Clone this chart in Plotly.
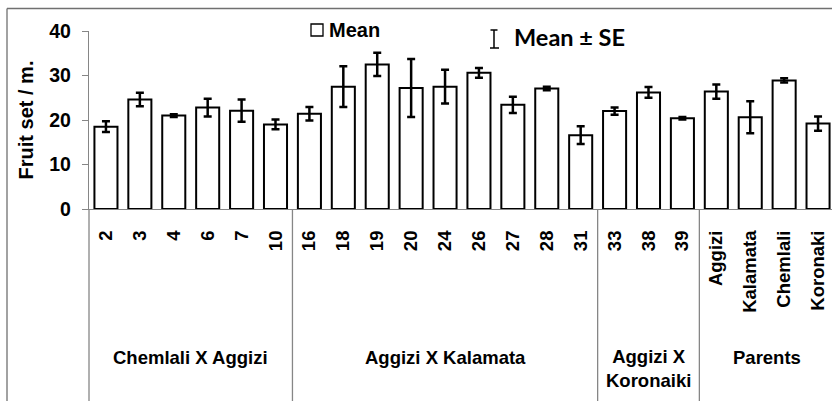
import plotly.graph_objects as go

# Fruit set per metre for each olive progeny and parent
labels = ["2", "3", "4", "6", "7", "10",
          "16", "18", "19", "20", "24", "26", "27", "28", "31",
          "33", "38", "39",
          "Aggizi", "Kalamata", "Chemlali", "Koronaki"]
means = [18.5, 24.6, 21.0, 22.8, 22.1, 19.0,
         21.4, 27.5, 32.5, 27.2, 27.5, 30.6, 23.4, 27.1, 16.6,
         22.0, 26.2, 20.4,
         26.4, 20.6, 28.9, 19.2]
se = [1.2, 1.5, 0.3, 2.0, 2.5, 1.1,
      1.5, 4.6, 2.6, 6.5, 3.8, 1.1, 1.8, 0.4, 2.0,
      0.8, 1.2, 0.3,
      1.6, 3.6, 0.5, 1.6]
groups = ["Chemlali X Aggizi", "Aggizi X Kalamata", "Aggizi X<br>Koronaiki", "Parents"]
group_sizes = [6, 9, 3, 4]

W, H = 832, 401
ML, MT, MB = 89, 31, 192
PW = W - ML
PH = H - MT - MB
AXIS_GREY = "#868686"
ARIAL = "Liberation Sans, Arial, sans-serif"


def px_x(px):
    return (px - ML) / PW


def px_y(py):
    return (H - MB - py) / PH


xs = list(range(len(labels)))

fig = go.Figure()
fig.add_trace(go.Bar(
    x=xs, y=means, width=0.68,
    marker=dict(color="white", line=dict(color="black", width=2)),
    error_y=dict(type="data", array=se, visible=True,
                 color="black", thickness=2.5, width=4),
    showlegend=False,
))

shapes = []
annotations = []

# group separators and captions below the axis
start = 0
for g, n in zip(groups, group_sizes):
    end = start + n
    if end < len(labels):
        shapes.append(dict(type="line", xref="x", yref="paper",
                           x0=end - 0.5, x1=end - 0.5, y0=0, y1=px_y(H + 2),
                           line=dict(color=AXIS_GREY, width=1.3)))
    two_lines = "<br>" in g
    annotations.append(dict(
        xref="x", yref="paper", x=(start + end - 1) / 2,
        y=px_y(368 if two_lines else 357), text=g, showarrow=False,
        font=dict(family=ARIAL, size=18.5, color="black", weight="bold"),
        xanchor="center", yanchor="middle", align="center"))
    start = end

# y axis line continued down through the caption area
shapes.append(dict(type="line", xref="paper", yref="paper",
                   x0=0, x1=0, y0=0, y1=px_y(H + 2),
                   line=dict(color=AXIS_GREY, width=1.3)))

# outer frame (left and top edges)
shapes.append(dict(type="line", xref="paper", yref="paper",
                   x0=px_x(7), x1=px_x(7), y0=px_y(8.5), y1=px_y(H + 2),
                   line=dict(color="#707070", width=1.3)))
shapes.append(dict(type="line", xref="paper", yref="paper",
                   x0=px_x(7), x1=px_x(W + 2), y0=px_y(8.5), y1=px_y(8.5),
                   line=dict(color="#707070", width=1.3)))

# legend: mean box
shapes.append(dict(type="rect", xref="paper", yref="paper",
                   x0=px_x(311), x1=px_x(323), y0=px_y(36), y1=px_y(24),
                   line=dict(color="black", width=1.3), fillcolor="white"))
annotations.append(dict(xref="paper", yref="paper", x=px_x(327), y=px_y(30),
                        text="Mean", showarrow=False, xanchor="left", yanchor="middle",
                        font=dict(family=ARIAL, size=20, color="black", weight="bold")))

# legend: error bar glyph
for seg in [(494, 30, 494, 48), (490.5, 30, 497.5, 30), (490, 48, 499, 48)]:
    shapes.append(dict(type="line", xref="paper", yref="paper",
                       x0=px_x(seg[0]), y0=px_y(seg[1]), x1=px_x(seg[2]), y1=px_y(seg[3]),
                       line=dict(color="black", width=1.5)))
annotations.append(dict(xref="paper", yref="paper", x=px_x(512), y=px_y(37),
                        text="Mean ± SE", showarrow=False, xanchor="left", yanchor="middle",
                        font=dict(family="Lato, Carlito, sans-serif", size=23.5,
                                  color="black", weight="bold")))

fig.update_layout(
    width=W, height=H,
    margin=dict(l=ML, r=0, t=MT, b=MB, pad=0),
    paper_bgcolor="white", plot_bgcolor="white",
    bargap=0.32,
    shapes=shapes, annotations=annotations,
    xaxis=dict(
        range=[-0.5, -0.5 + len(labels) * PW / 746],
        tickmode="array", tickvals=xs, ticktext=labels, tickangle=-90,
        tickfont=dict(family=ARIAL, size=18.5, color="black", weight="bold"),
        ticks="", ticklabelstandoff=13,
        showline=True, linecolor=AXIS_GREY, linewidth=1.3,
        showgrid=False, zeroline=False, fixedrange=True,
    ),
    yaxis=dict(
        range=[0, 40], tickvals=[0, 10, 20, 30, 40],
        tickfont=dict(family=ARIAL, size=19.5, color="black", weight="bold"),
        ticks="outside", ticklen=6, tickcolor=AXIS_GREY, tickwidth=1.3,
        ticklabelstandoff=7,
        showline=True, linecolor=AXIS_GREY, linewidth=1.3,
        showgrid=False, zeroline=False,
        title=dict(text="Fruit set / m.", standoff=10,
                   font=dict(family=ARIAL, size=20, color="black", weight="bold")),
    ),
)

fig.write_html("out.html")
